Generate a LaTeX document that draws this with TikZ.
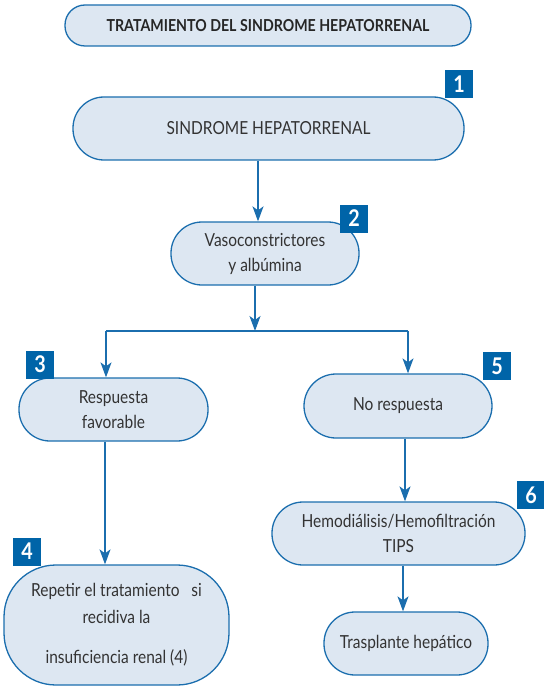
\documentclass[tikz,border=0pt]{standalone}
\usepackage{fontspec}
\setmainfont{Lato}[FakeStretch=0.86]
\usetikzlibrary{arrows.meta}
\definecolor{bordc}{HTML}{1B6EAE}
\definecolor{fillc}{HTML}{DDE7F2}
\definecolor{badgec}{HTML}{0064A8}
\definecolor{txtc}{HTML}{333333}
\tikzset{
  box/.style={draw=bordc, fill=fillc, line width=1.3pt, inner sep=0pt, align=center,
    text=txtc, font=\fontsize{18}{25}\selectfont},
  badge/.style={fill=badgec, text=white, inner sep=0pt, minimum width=28pt, minimum height=28pt,
    font=\fontsize{23}{23}\selectfont\bfseries},
  conn/.style={draw=bordc, line width=1.3pt},
  arr/.style={conn, -{Stealth[length=15pt,width=11pt,inset=4pt]}},
}
\begin{document}
\begin{tikzpicture}[x=1pt,y=-1pt]
\useasboundingbox (0,0) rectangle (543,687);
% title
\node[box, minimum width=406pt, minimum height=41pt, rounded corners=20pt,
  font=\fontsize{16.5}{19}\selectfont\bfseries, text=black!85] (title) at (268,25.5) {TRATAMIENTO DEL SINDROME HEPATORRENAL};
% boxes
\node[box, minimum width=391pt, minimum height=63pt, rounded corners=31pt] (n1) at (268.5,128.5) {SINDROME HEPATORRENAL};
\node[box, minimum width=188pt, minimum height=63pt, rounded corners=31pt] (n2) at (265,253.5) {Vasoconstrictores\\y albúmina};
\node[box, minimum width=189pt, minimum height=63pt, rounded corners=31pt] (n3) at (113.5,409.5) {Respuesta\\favorable};
\node[box, minimum width=188pt, minimum height=64pt, rounded corners=32pt] (n5) at (398,406) {No respuesta};
\node[box, minimum width=253pt, minimum height=63pt, rounded corners=31pt] (n6) at (398.5,533.5) {Hemodiálisis/Hemofiltración\\TIPS};
\node[box, minimum width=225pt, minimum height=120pt, rounded corners=52pt,
  font=\fontsize{18}{27}\selectfont] (n4) at (116.5,625) {Repetir el tratamiento\ \ \ si\\recidiva la\\[13pt]insuficiencia renal (4)};
\node[box, minimum width=164pt, minimum height=63pt, rounded corners=31pt] (n7) at (406,643.5) {Trasplante hepático};
% badges
\node[badge] (b1) at (459,84.5) {1};
\node[badge] (b2) at (354,218.5) {2};
\node[badge] (b3) at (40,364.5) {3};
\node[badge] (b4) at (27,551.5) {4};
\node[badge] (b5) at (497,366) {5};
\node[badge] (b6) at (531,495) {6};
% connector coordinates
\coordinate (x1) at (258,0);
\coordinate (j) at (255,331);
\coordinate (jl) at (106,331);
\coordinate (jr) at (408,331);
\coordinate (x3) at (105,0);
\coordinate (x5) at (405,0);
\coordinate (x6) at (403,0);
% connectors
\draw[arr] (n1.south -| x1) -- (n2.north -| x1);
\draw[arr] (n2.south -| j) -- (j);
\draw[conn] (jl) -- (jr);
\draw[arr] (jl) -- (n3.north -| jl);
\draw[arr] (jr) -- (n5.north -| jr);
\draw[arr] (n3.south -| x3) -- (n4.north -| x3);
\draw[arr] (n5.south -| x5) -- (n6.north -| x5);
\draw[arr] (n6.south -| x6) -- (n7.north -| x6);
\end{tikzpicture}
\end{document}
